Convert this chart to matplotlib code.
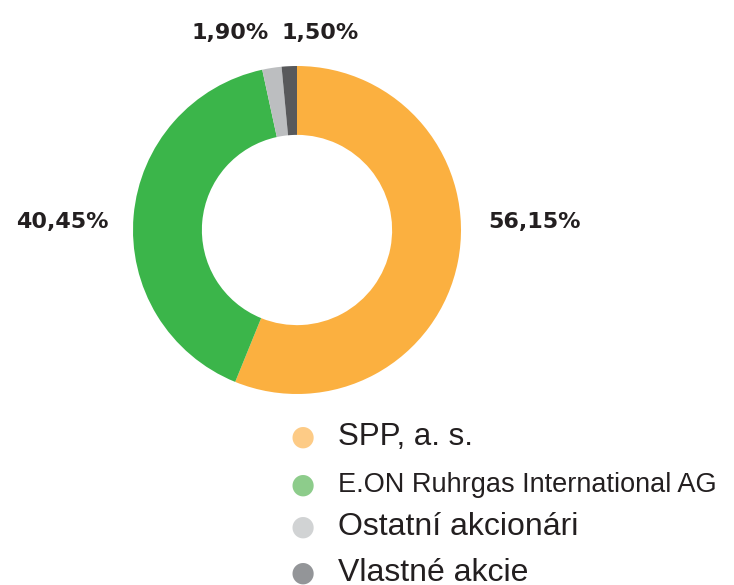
import matplotlib
matplotlib.use("Agg")
import matplotlib.pyplot as plt

# shareholder structure
labels = ["SPP, a. s.", "E.ON Ruhrgas International AG",
          "Ostatní akcionári", "Vlastné akcie"]
shares = [56.15, 40.45, 1.90, 1.50]
pct_text = ["56,15%", "40,45%", "1,90%", "1,50%"]

colors = ["#FBB040", "#3BB54A", "#BCBEC0", "#58595B"]
legend_colors = ["#FDCB86", "#8DCC8B", "#D1D3D4", "#939598"]

W, H = 734, 585
fig = plt.figure(figsize=(W / 100, H / 100), dpi=100)
fig.patch.set_facecolor("white")

# donut: centre (297, 230) px, radius 164 px
cx, cy, r = 297, 230, 164
ax = fig.add_axes([(cx - r) / W, (H - cy - r) / H, 2 * r / W, 2 * r / H])
ax.pie(shares, colors=colors, startangle=90, counterclock=False,
       radius=1.0, wedgeprops=dict(width=0.42, edgecolor="none"))
ax.set_xlim(-1, 1)
ax.set_ylim(-1, 1)
ax.set_aspect("equal")
ax.axis("off")

# percent labels (axes data coords relative to the pie centre)
label_pos = [(1.45, 0.05), (-1.43, 0.05), (-0.41, 1.20), (0.14, 1.20)]
for txt, (x, y) in zip(pct_text, label_pos):
    ax.text(x, y, txt, ha="center", va="center", fontsize=16,
            fontweight="bold", color="#231F20", family="DejaVu Sans",
            clip_on=False)

# legend, drawn by hand to keep the uneven text sizes
row_y = [437, 485, 527, 573]
font_sizes = [22.5, 19.5, 23, 23]
for lab, col, y, fs in zip(labels, legend_colors, row_y, font_sizes):
    fig.text(303 / W, 1 - y / H, "\u25CF", color=col, fontsize=20,
             ha="center", va="center")
    fig.text(338 / W, 1 - y / H, lab, color="#231F20", fontsize=fs,
             ha="left", va="center", family="Liberation Sans")

fig.savefig("out.png", dpi=100)
